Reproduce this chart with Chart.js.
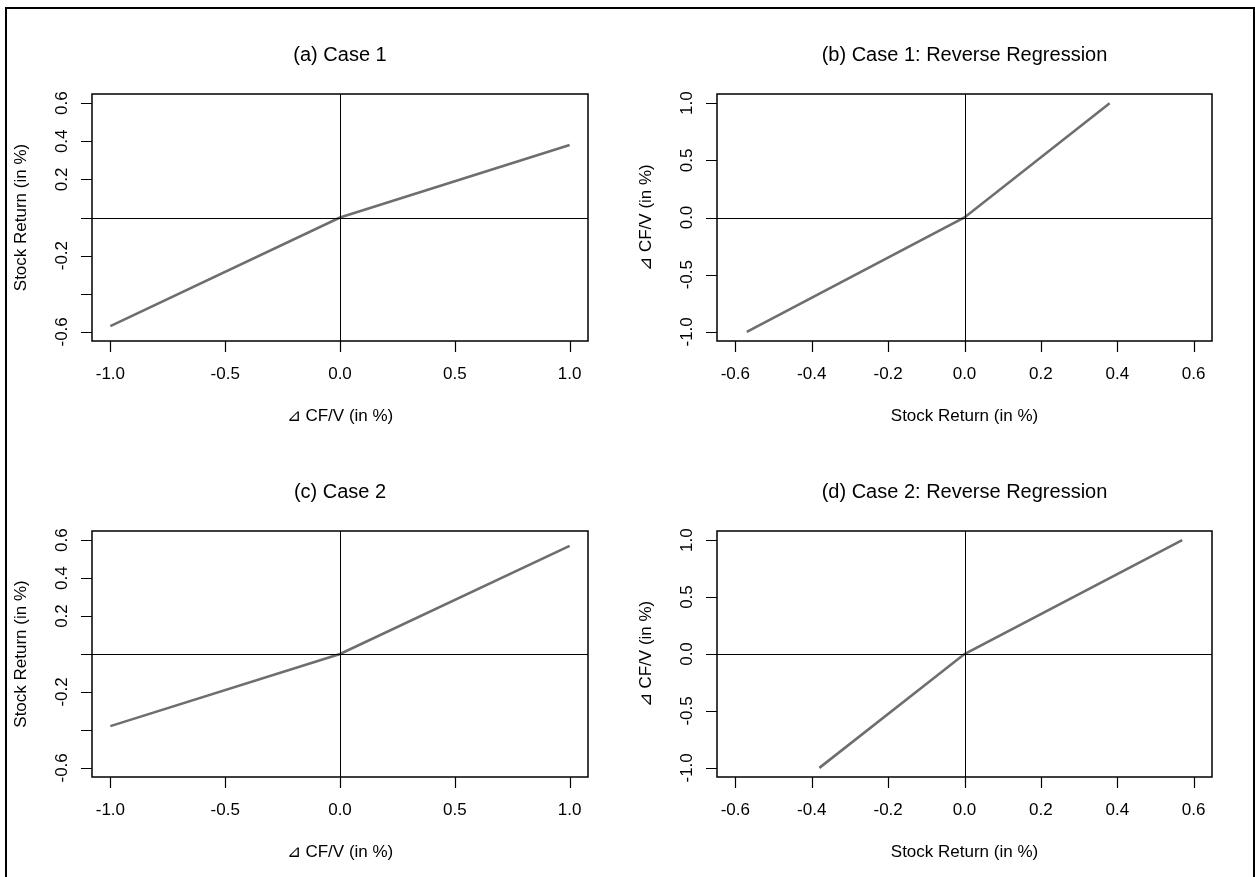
<!DOCTYPE html>
<html>
<head>
<meta charset="utf-8">
<script src="https://cdn.jsdelivr.net/npm/chart.js@4/dist/chart.umd.min.js"></script>
<style>
  html, body { margin: 0; padding: 0; background: #fff; }
  #page { position: relative; width: 1255px; height: 877px; overflow: hidden; }
  #frame { position: absolute; left: 5px; top: 7px; width: 1246px; height: 880px; border: 2px solid #000; }
  canvas { position: absolute; left: 0; top: 0; }
</style>
</head>
<body>
<div id="page">
  <div id="frame"></div>
  <canvas id="pa" width="1255" height="877"></canvas>
  <canvas id="pb" width="1255" height="877"></canvas>
  <canvas id="pc" width="1255" height="877"></canvas>
  <canvas id="pd" width="1255" height="877"></canvas>
</div>
<script>
// =================== DATA ===================
const cfValues = [-1, 0, 1];            // ⊿ CF/V
const case1Return = [-0.57, 0, 0.38];   // stock return, case 1
const case2Return = [-0.38, 0, 0.57];   // stock return, case 2

const cfTicks = [-1, -0.5, 0, 0.5, 1];
const cfTickLabels = ["-1.0", "-0.5", "0.0", "0.5", "1.0"];
const retTicks = [-0.6, -0.4, -0.2, 0, 0.2, 0.4, 0.6];
const retTickLabelsX = ["-0.6", "-0.4", "-0.2", "0.0", "0.2", "0.4", "0.6"];
const retTickLabelsY = ["-0.6", "", "-0.2", "", "0.2", "0.4", "0.6"];

const titles = ["(a) Case 1", "(b) Case 1: Reverse Regression", "(c) Case 2", "(d) Case 2: Reverse Regression"];
const cfLabel = "\u22BF CF/V (in %)";
const retLabel = "Stock Return (in %)";

// =================== STYLE ===================
const FONT = '"Liberation Sans", Arial, Helvetica, sans-serif';
const LINE_COLOR = "#6e6e6e";
const CF_LIM = 1.08;
const RET_LIM = 0.648;

// =================== R-STYLE AXES PLUGIN ===================
const rAxes = {
  id: "rAxes",
  afterDraw(chart) {
    const o = chart.options.plugins.rAxes;
    const { ctx, chartArea: a, scales } = chart;
    const sx = scales.x, sy = scales.y;
    ctx.save();
    ctx.strokeStyle = "#000";
    ctx.fillStyle = "#000";

    // zero reference lines
    ctx.lineWidth = 1;
    ctx.beginPath();
    const x0 = Math.round(sx.getPixelForValue(0)) + 0.5;
    const y0 = Math.round(sy.getPixelForValue(0)) + 0.5;
    ctx.moveTo(x0, a.top); ctx.lineTo(x0, a.bottom);
    ctx.moveTo(a.left, y0); ctx.lineTo(a.right, y0);
    ctx.stroke();

    // box
    ctx.lineWidth = 1.5;
    ctx.strokeRect(a.left, a.top, a.right - a.left, a.bottom - a.top);

    // ticks
    ctx.lineWidth = 1.2;
    ctx.beginPath();
    o.xTicks.forEach(v => {
      const px = Math.round(sx.getPixelForValue(v)) + 0.5;
      ctx.moveTo(px, a.bottom); ctx.lineTo(px, a.bottom + 11);
    });
    o.yTicks.forEach(v => {
      const py = Math.round(sy.getPixelForValue(v)) + 0.5;
      ctx.moveTo(a.left, py); ctx.lineTo(a.left - 11, py);
    });
    ctx.stroke();

    // tick labels
    ctx.font = "17px " + FONT;
    ctx.textAlign = "center";
    ctx.textBaseline = "middle";
    o.xTicks.forEach((v, i) => {
      ctx.fillText(o.xLabels[i], sx.getPixelForValue(v), a.bottom + 33);
    });
    o.yTicks.forEach((v, i) => {
      if (!o.yLabels[i]) return;
      ctx.save();
      ctx.translate(a.left - 30, sy.getPixelForValue(v));
      ctx.rotate(-Math.PI / 2);
      ctx.fillText(o.yLabels[i], 0, 0);
      ctx.restore();
    });

    // axis titles
    const cx = (a.left + a.right) / 2, cy = (a.top + a.bottom) / 2;
    ctx.fillText(o.xTitle, cx, a.bottom + 75);
    ctx.save();
    ctx.translate(a.left - 71, cy);
    ctx.rotate(-Math.PI / 2);
    ctx.fillText(o.yTitle, 0, 0);
    ctx.restore();

    // main title
    ctx.font = "20px " + FONT;
    ctx.fillText(o.title, cx, a.top - 39);
    ctx.restore();
  }
};

// =================== BUILD PANELS ===================
function makePanel(id, box, xs, ys, xLim, yLim, axes) {
  const pts = xs.map((x, i) => ({ x: x, y: ys[i] }));
  new Chart(document.getElementById(id), {
    type: "line",
    data: {
      datasets: [{
        data: pts,
        borderColor: LINE_COLOR,
        borderWidth: 2.6,
        pointRadius: 0,
        tension: 0,
        fill: false
      }]
    },
    options: {
      responsive: false,
      animation: false,
      events: [],
      layout: { padding: { left: box[0], top: box[1], right: 1255 - box[2], bottom: 877 - box[3] } },
      scales: {
        x: { type: "linear", min: -xLim, max: xLim, display: false },
        y: { type: "linear", min: -yLim, max: yLim, display: false }
      },
      plugins: {
        legend: { display: false },
        tooltip: { enabled: false },
        rAxes: axes
      }
    },
    plugins: [rAxes]
  });
}

makePanel("pa", [92, 94, 588, 341], cfValues, case1Return, CF_LIM, RET_LIM, {
  title: titles[0], xTitle: cfLabel, yTitle: retLabel,
  xTicks: cfTicks, xLabels: cfTickLabels, yTicks: retTicks, yLabels: retTickLabelsY
});
makePanel("pb", [717, 94, 1212, 341], case1Return, cfValues, RET_LIM, CF_LIM, {
  title: titles[1], xTitle: retLabel, yTitle: cfLabel,
  xTicks: retTicks, xLabels: retTickLabelsX, yTicks: cfTicks, yLabels: cfTickLabels
});
makePanel("pc", [92, 531, 588, 777], cfValues, case2Return, CF_LIM, RET_LIM, {
  title: titles[2], xTitle: cfLabel, yTitle: retLabel,
  xTicks: cfTicks, xLabels: cfTickLabels, yTicks: retTicks, yLabels: retTickLabelsY
});
makePanel("pd", [717, 531, 1212, 777], case2Return, cfValues, RET_LIM, CF_LIM, {
  title: titles[3], xTitle: retLabel, yTitle: cfLabel,
  xTicks: retTicks, xLabels: retTickLabelsX, yTicks: cfTicks, yLabels: cfTickLabels
});
</script>
</body>
</html>
